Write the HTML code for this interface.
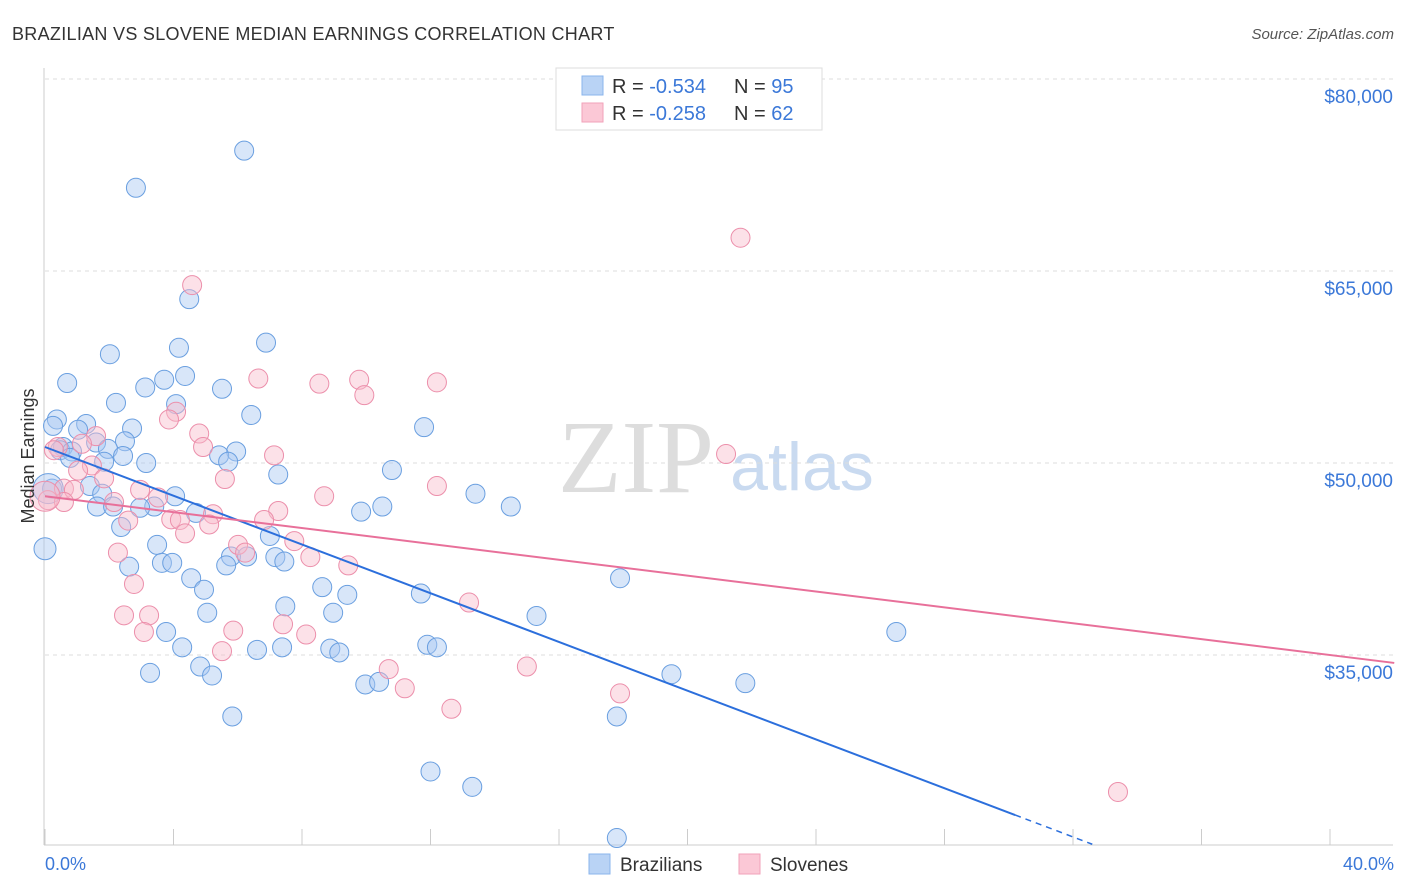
<!DOCTYPE html>
<html><head><meta charset="utf-8"><style>
body{margin:0;background:#fff;font-family:"Liberation Sans",sans-serif;}
svg{display:block}
</style></head><body>
<svg id="chart" width="1406" height="892">
<text x="12" y="40" font-size="18" letter-spacing="0.3" fill="#333">BRAZILIAN VS SLOVENE MEDIAN EARNINGS CORRELATION CHART</text>
<text x="1394" y="39" font-size="15" fill="#555" font-style="italic" text-anchor="end">Source: ZipAtlas.com</text>
<text x="636" y="492" font-size="104" fill="#ddd" font-family="Liberation Serif,serif" text-anchor="middle">ZIP</text>
<text x="802" y="490" font-size="68" fill="#c9daf0" text-anchor="middle">atlas</text>
<g id="grid"></g>
<g id="marks"></g>
<g id="trends"></g>
<text transform="translate(34,456) rotate(-90)" font-size="18" fill="#333" text-anchor="middle">Median Earnings</text>
<text x="45" y="870" font-size="18" fill="#3b78d8">0.0%</text>
<text x="1394" y="870" font-size="18" fill="#3b78d8" text-anchor="end">40.0%</text>
<g>
<rect x="556" y="68" width="266" height="62" fill="#fff" stroke="#ddd"/>
<rect x="582" y="76" width="21" height="19" fill="#b9d3f5" stroke="#8ab4ec"/>
<rect x="582" y="103" width="21" height="19" fill="#fbc8d6" stroke="#f2a2b9"/>
<text x="612" y="93" font-size="20" fill="#333">R = <tspan fill="#3b78d8">-0.534</tspan><tspan x="734">N = </tspan><tspan fill="#3b78d8">95</tspan></text>
<text x="612" y="120" font-size="20" fill="#333">R = <tspan fill="#3b78d8">-0.258</tspan><tspan x="734">N = </tspan><tspan fill="#3b78d8">62</tspan></text>
</g>
<g>
<rect x="589" y="854" width="21" height="20" fill="#b9d3f5" stroke="#8ab4ec"/>
<text x="620" y="871" font-size="19" fill="#333">Brazilians</text></g>
<g>
<rect x="739" y="854" width="21" height="20" fill="#fbc8d6" stroke="#f2a2b9"/>
<text x="770" y="871" font-size="19" fill="#333">Slovenes</text></g>
</svg>
<script>
const yTicks=[80000,65000,50000,35000];
const yTickLabels=["$80,000","$65,000","$50,000","$35,000"];
const blueX=[6.2,2.83,4.49,2.02,4.17,6.88,0.69,3.71,4.36,3.12,5.51,2.21,4.08,6.42,0.37,1.28,0.25,1.03,2.71,11.8,2.49,1.59,0.56,1.96,0.47,0.84,5.95,2.43,5.42,0.78,3.15,5.7,1.84,7.26,10.8,0.22,1.4,1.78,4.05,1.62,2.12,3.4,2.96,4.7,9.84,10.5,13.4,14.5,2.37,7.0,3.49,5.79,6.29,7.17,7.45,2.62,3.64,3.96,5.64,4.55,4.95,8.63,9.41,17.9,11.7,7.48,5.05,8.97,15.3,3.77,4.27,7.38,6.6,8.88,9.16,11.9,12.2,26.5,4.83,5.2,3.27,19.5,9.97,10.4,21.8,5.83,17.8,12.0,13.3,17.8,0.0,0.1];
const blueY=[74.4,71.5,62.8,58.5,59.0,59.4,56.25,56.5,56.8,55.9,55.8,54.7,54.6,53.75,53.4,53.05,52.9,52.6,52.7,52.8,51.7,51.6,51.25,51.1,51.0,50.9,50.9,50.55,50.6,50.4,50.0,50.1,50.1,49.1,49.45,48.0,48.2,47.6,47.4,46.6,46.6,46.6,46.5,46.1,46.2,46.6,47.6,46.6,45.0,44.3,43.6,42.7,42.7,42.65,42.3,41.9,42.2,42.2,42.0,41.0,40.1,40.3,39.7,41.0,39.8,38.8,38.3,38.3,38.05,36.8,35.6,35.6,35.4,35.5,35.2,35.8,35.6,36.8,34.1,33.4,33.6,33.5,32.7,32.9,32.8,30.2,30.2,25.9,24.7,20.7,43.3,48.0];
const pinkX=[21.65,4.58,6.64,8.54,9.78,12.2,9.94,4.08,3.86,4.8,4.92,1.59,0.4,1.15,0.28,7.13,21.2,1.46,1.03,5.6,12.2,1.84,0.59,0.9,2.96,3.52,8.69,0.09,0.59,2.15,7.26,5.23,3.93,4.2,6.82,5.11,2.59,4.36,6.01,7.76,6.23,2.27,8.26,9.44,2.77,2.46,3.24,13.2,5.86,3.08,8.13,7.41,5.51,10.7,15.0,11.2,17.9,12.65,33.4,0.0];
const pinkY=[67.6,63.9,56.6,56.2,56.5,56.3,55.3,54.0,53.4,52.3,51.25,52.1,51.25,51.5,51.0,50.6,50.7,49.8,49.4,48.75,48.2,48.8,48.0,47.9,47.9,47.3,47.4,47.1,46.95,46.95,46.25,46.0,45.6,45.55,45.55,45.2,45.5,44.5,43.6,43.9,43.0,43.0,42.65,42.0,40.55,38.1,38.1,39.1,36.9,36.8,36.6,37.4,35.3,33.9,34.1,32.4,32.0,30.8,24.3,47.4];
const blueTrend=[51.25,-0.952];
const pinkTrend=[47.4,-0.31];
const NS="http://www.w3.org/2000/svg";
function xs(p){return 45+p*32.125;}
function ys(k){return 79+(80-k)*12.8;}
function mk(t,a,parent){const e=document.createElementNS(NS,t);for(const k in a)e.setAttribute(k,a[k]);document.getElementById(parent).appendChild(e);return e;}
yTicks.forEach((v,i)=>{
 const y=ys(v/1000);
 const l=mk('line',{x1:45,x2:1393,y1:y,y2:y,stroke:'#ddd','stroke-dasharray':'4,4'},'grid');
 
 
 const t=mk('text',{x:1393,y:y+24,'font-size':19,fill:'#3b78d8','text-anchor':'end'},'grid');
 t.textContent=yTickLabels[i];
 
 
});
const ax=mk('line',{x1:44,x2:44,y1:68,y2:845,stroke:'#ccc'},'grid');


const bx=mk('line',{x1:44,x2:1393,y1:845,y2:845,stroke:'#ccc'},'grid');


for(let i=0;i<=10;i++){const x=xs(i*4);
 const t=mk('line',{x1:x,x2:x,y1:829,y2:845,stroke:'#ccc'},'grid');
 
 }
function pts(X,Y,fill,stroke,name,bigIdx){
 X.forEach((x,i)=>{
  const r=bigIdx.includes(i)?(i===X.length-1?15:11):9.5;
  const c=mk('circle',{cx:xs(x),cy:ys(Y[i]),r:r,fill:fill,'fill-opacity':0.45,stroke:stroke,'stroke-width':1},'marks');
  
  
 });
}
pts(blueX,blueY,'#a9c8f2','#6a9fe0','brazilian-point',[blueX.length-1,blueX.length-2]);
pts(pinkX,pinkY,'#f8bccd','#ec8fab','slovene-point',[pinkX.length-1]);
const bEnd=30.2;
const b1=mk('line',{x1:xs(0),y1:ys(blueTrend[0]),x2:xs(bEnd),y2:ys(blueTrend[0]+blueTrend[1]*bEnd),stroke:'#2c6fdc','stroke-width':2},'trends');


const bEnd2=32.6;
const b2=mk('line',{x1:xs(bEnd),y1:ys(blueTrend[0]+blueTrend[1]*bEnd),x2:xs(bEnd2),y2:ys(blueTrend[0]+blueTrend[1]*bEnd2),stroke:'#2c6fdc','stroke-width':1.5,'stroke-dasharray':'6,5'},'trends');


const pEnd=42;
const p1=mk('line',{x1:xs(0),y1:ys(pinkTrend[0]),x2:xs(pEnd),y2:ys(pinkTrend[0]+pinkTrend[1]*pEnd),stroke:'#e8709a','stroke-width':2},'trends');


</script>
</body></html>
